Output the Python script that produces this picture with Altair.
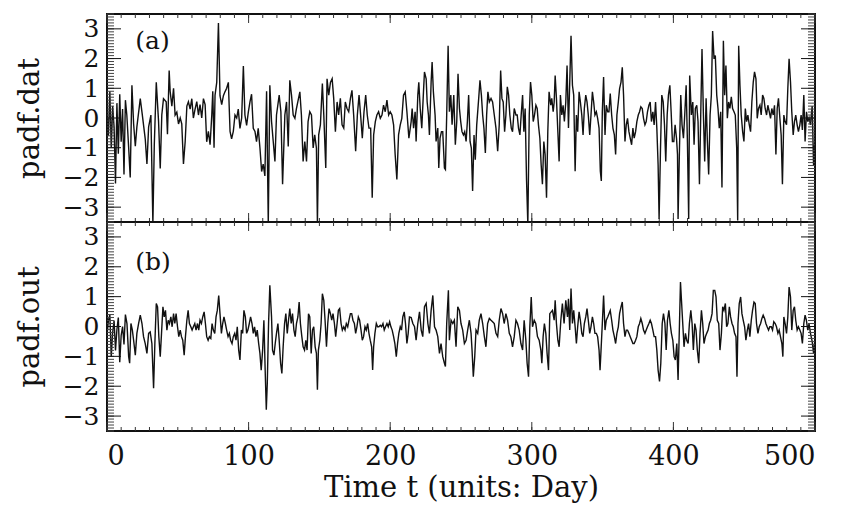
import altair as alt
import pandas as pd

# ---- data: (day, value) ----
padf_dat = [
(0,0.2),(1,-0.6),(2,0.9),(3,-1.0),(4,0.4),(5,-0.3),(6,-2.2),(7,0.5),(8,-1.2),(9,0.8),(10,-0.8),(11,0.3),(12,-1.9),(13,0.6),
(14,0.1),(15.3,-1.0),(16.4,-2.0),(17.6,1.1),(18.8,-0.2),(20,-0.95),(21.1,-0.3),(23.5,0.65),(24.7,0.2),(27,-0.7),(28.2,-1.55),(29.4,-0.3),(31,0.1),(32.4,-3.55),(33.4,-0.9),(34.8,1.2),(36.4,-0.1),(37.6,-1.7),(38.7,0.1),(39.9,0.65),(41.8,0.55),(42.7,-0.55),(43.9,1.6),(44.6,0.9),(45.8,0.4),(47,1.0),(48.1,0.1),(49.3,0.2),(50.5,-0.2),(51.7,0.0),(52.8,-0.2),(54,-1.55),(55.2,-0.8),(56.4,0.4),(57.5,0.55),(58.7,0.3),(59.9,0.65),(61,0.0),(62.2,0.3),(63.4,0.55),(64.6,0.1),(65.7,0.45),(66.9,0.0),(68.1,0.65),(69.3,0.45),(70.4,-0.8),(71.6,-0.45),(72.8,-0.9),(74,0.1),(74.7,0.9),(75.6,-1.0),(76.3,0.77),(77.5,1.2),(78.7,3.2),(79.8,0.75),(81,0.45),(82.2,0.75),(83.3,0.88),(84.5,1.0),(85.7,1.2),(86.9,-0.45),(88,-0.7),(89.2,-0.45),(90.4,0.1),(91.6,0.0),(92.7,0.3),(93.9,-0.35),(95.1,0.0),(96.3,1.75),(97.4,0.1),(98.6,-0.25),(99.8,0.2),(101,0.55),(102.1,0.8),(103.3,-0.35),(104.5,-0.45),(105.6,-0.8),(106.8,-0.35),(108,-1.0),(109.2,-1.8),(110.3,-1.55),(111.5,-1.95),(112.7,0.9),(113.9,-3.55),(115,1.1),
(116.2,-0.12),(117.4,-0.79),(118.6,-1.46),(119.7,0.1),(121.6,0.77),(122.8,0.21),(124,-2.23),(125.6,0.1),(126.8,0.54),(128,-0.96),(129.1,1.27),(130.3,0.77),(131.5,0.1),(132.7,-0.01),(133.8,0.32),(135,0.6),(136.2,0.88),(137.3,0.1),(138.5,-1.46),(139.7,-0.79),(140.9,-1.46),(142,-0.12),(143.2,0.21),(144.4,0.1),(145.6,-1.01),(146.7,-0.57),(147.9,-1.01),(148.6,-3.55),(149.5,-0.57),(150.7,-0.23),(152.1,1.16),(153.1,0.1),(154.5,-1.68),(155.4,1.32),(156.6,0.77),(157.8,1.2),(159,1.32),(160.1,0.66),(161.3,-0.46),(162.5,0.54),(163.6,0.1),(164.8,0.66),(166,-0.23),(167.2,-0.34),(168.3,0.54),(169.5,0.32),(170.7,0.21),(171.9,0.66),(173,0.93),(174.2,0.1),(175.6,-1.12),(176.8,0.1),(178,0.77),(179.1,0.1),(180.3,-0.68),(181.5,0.21),(182.7,0.77),(183.8,0.1),(185,-0.34),(186.2,-0.34),(187.3,-2.68),(188.3,-0.57),(189.5,-0.12),(190.6,0.1),(191.8,0.21),(193,-0.01),(194.2,0.1),(195.3,0.43),(196.5,0.21),(197.7,0.6),(198.9,0.1),(200,0.21),(201.2,0.1),(202.4,-0.23),(203.5,-1.23),(204.7,-2.07),(205.9,-0.57),(207.1,-0.23),(208.2,-0.01),(209.4,0.77),(210.6,0.88),(211.8,0.21),(213.2,-0.68),
(214.8,-0.12),(215.5,0.32),(216.5,-0.34),(217.6,0.21),(218.3,-0.79),(219.5,0.77),(220.2,1.2),(221.2,0.32),(222.3,-0.34),(223.5,0.88),(224.2,1.55),(225.4,1.32),(226.1,0.54),(227,0.1),(227.7,-0.57),(228.9,1.21),(229.6,1.88),(230.5,0.88),(231.7,0.1),(232.4,-0.79),(233.6,-0.34),(234.3,-1.68),(235.2,-0.68),(236.2,-0.46),(237.1,-0.46),(238.3,-1.68),(239,-1.73),(239.9,0.1),(240.9,2.43),(241.8,0.21),(242.8,0.77),(243.7,-0.23),(244.9,0.77),(246,-0.9),(247,-0.12),(247.9,1.49),(248.9,0.32),(249.8,-0.12),(250.7,-0.46),(251.7,-0.57),(252.6,-0.46),(253.6,-0.79),(254.5,-0.12),(255.4,0.77),(256.4,-0.79),(257.3,-1.01),(258.2,-2.46),(259.2,-0.57),(260.1,-1.4),(261.1,-0.23),(262.5,0.66),(263.4,1.27),(264.4,0.77),(265.3,0.1),(266.2,-0.34),(267.2,-1.18),(268.1,0.1),(269,0.88),(270,0.54),(271.2,0.66),(272.3,0.54),(273.5,0.1),(274.7,-0.34),(275.9,-1.12),(277,-0.23),(278,1.6),(278.9,0.66),(279.8,0.54),(280.8,-0.46),(281.7,0.1),(282.7,1.05),(283.6,0.77),(284.5,0.1),(285.5,-0.34),(286.4,-0.46),(287.6,0.32),(288.8,0.1),(289.7,0.1),(290.6,-0.34),(291.6,-0.57),(292.5,0.1),(293.5,0.77),(294.4,-0.46),(295.3,0.32),(296.3,-2.12),(297.2,-3.57),(298.2,0.1),(299.1,1.21),(300,0.77),(301,-0.12),(301.9,0.1),(302.9,0.43),(303.8,0.32),(304.7,-0.23),(305.7,-0.68),(306.6,-1.57),(307.5,-2.23),(308.5,-0.79),(309.4,-1.23),(310.4,-2.68),(311.3,-0.46),(312.2,0.88),
(313.4,0.43),(314.1,0.66),(315.1,0.21),(315.8,0.54),(316.5,1.43),(317.4,0.66),(318.4,-0.46),(319.3,-1.46),(320.2,0.77),(321.2,0.1),(322.1,0.43),(323,-0.12),(324,0.54),(324.9,1.77),(325.9,-0.34),(326.8,1.21),(327.7,2.77),(328.7,1.1),(329.6,0.77),(330.6,-1.79),(331.5,0.1),(332.4,-0.46),(333.4,0.88),(334.3,0.54),(335.3,0.1),(336.2,-0.57),(337.1,0.32),(338.1,0.77),(339,0.54),(339.9,0.1),(340.9,-0.57),(341.8,0.1),(342.8,0.88),(343.7,0.54),(344.6,0.1),(345.6,0.21),(346.5,-0.01),(347.5,-0.34),(348.4,-1.79),(349.1,-2.12),(349.8,0.21),(350.7,1.38),(351.7,-0.57),(352.6,0.43),(353.6,0.21),(354.5,0.21),(355.4,0.82),(356.4,0.1),(357.3,-0.34),(358.3,-0.57),(359.2,-1.23),(360.1,0.1),(361.1,0.54),(362,0.99),(363,1.21),(363.9,1.71),(364.8,0.77),(365.8,-0.79),(366.7,-0.23),(367.6,-0.01),(368.6,-0.46),(369.5,-0.68),(370.5,-0.9),(371.4,-0.34),(372.3,-0.68),(373.3,-0.46),(374.2,-0.12),(375.2,0.1),(376.1,0.21),(377,0.38),(378,0.32),(378.9,-0.01),(379.9,-0.23),(380.8,-0.12),(381.7,0.21),(382.7,0.43),(383.6,0.54),(384.5,-0.12),(385.5,0.21),(386.4,-0.23),(387.4,0.54),(388.3,-0.34),(389.2,-1.57),(389.9,-3.4),(390.9,-1.01),(391.8,0.77),(392.8,0.54),(393.7,-0.23),(394.6,-1.46),(395.6,0.1),(396.5,0.77),(397.5,1.1),(398.4,0.21),(399.3,-0.79),(400.3,-0.79),(401.2,-0.23),(402.2,-0.68),(402.9,-1.23),(403.3,-3.4),(404.3,-1.01),(405.2,0.77),(406.1,-0.23),(407.1,-0.68),(408,0.1),(409,1.1),(409.9,-0.79),(410.8,-3.4),(411.5,1.43),
(412.7,0.1),(413.7,0.54),(414.6,-0.9),(415.5,0.32),(416.5,0.43),(417.4,-0.12),(418.4,-2.23),(419.3,0.1),(420.2,2.32),(421.2,0.1),(422.1,-1.46),(423.1,0.66),(424,-0.79),(424.9,-1.9),(425.9,0.1),(426.8,0.77),(427.7,2.93),(428.7,1.99),(429.6,2.1),(430.6,0.77),(431.5,0.32),(432.4,-0.34),(433.4,0.21),(434.3,-2.34),(435.3,2.6),(436.2,0.77),(437.1,1.77),(438.1,-0.01),(439,0.54),(439.9,0.32),(440.9,0.71),(441.8,0.32),(442.8,0.21),(443.7,0.1),(444.7,-1.01),(445.4,-3.45),(446.1,2.43),(447,1.1),(447.9,0.1),(448.9,-0.46),(449.8,-0.79),(450.8,0.32),(451.7,-0.12),(452.6,0.1),(453.6,-0.23),(454.5,-0.46),(455.4,0.54),(456.4,1.21),(457.3,1.55),(458.3,1.32),(459.2,-0.01),(460.1,0.32),(461.1,0.43),(462,0.1),(463,0.77),(463.9,0.66),(464.8,0.32),(465.8,0.1),(466.7,0.43),(467.7,0.21),(468.6,-0.01),(469.5,0.32),(470.5,0.1),(471.4,0.43),(472.4,-1.23),(473.3,0.32),(474.2,0.66),(475.2,-0.01),(476.1,-0.57),(477,-2.23),(478,0.1),(478.9,-0.12),(479.9,-0.23),(480.8,0.99),(481.7,1.99),(482.7,1.21),(483.6,0.21),(484.6,-0.57),(485.5,-0.12),(486.4,0.1),(487.4,-0.23),(488.3,-0.46),(489.3,-0.23),(490.2,0.1),(491.1,-0.4),(492.1,0.77),(493,-0.79),(494,0.21),(494.9,-0.12),(495.8,0.01),(496.8,-0.23),(498,0.4),(499,-1.6),(500,-0.6),
]

padf_out = [
(0,-0.3),(1,0.2),(2,0.4),(3,-1.0),(4,-0.2),(5,0.2),(6,-0.8),(7,-0.1),(8,0.3),(9,-1.2),(10,-0.3),(11,0.0),(12,-0.6),(13,0.4),
(14.1,0.1),(15.3,-1.01),(16,-1.23),(16.9,0.1),(17.9,-0.12),(18.8,-0.46),(20,-0.96),(21.1,-0.23),(22.3,0.1),(23.5,0.38),(24.7,0.1),(25.8,-0.34),(27,-0.57),(28.2,-0.9),(29.4,-0.23),(30.5,-0.18),(31.7,-0.57),(32.9,-2.07),(33.8,-0.57),(34.8,0.77),(35.7,0.66),(36.6,-0.34),(37.6,-1.01),(38.5,-0.23),(39.5,0.66),(40.4,0.32),(41.3,0.54),(42.3,-0.12),(43.2,0.21),(44.1,0.1),(45.1,0.32),(46,-0.01),(47,0.43),(47.9,0.1),(48.8,0.43),(49.8,-0.01),(50.7,-0.34),(51.7,-0.12),(52.6,-0.34),(53.5,-0.46),(54.5,-0.96),(55.4,-0.34),(56.4,0.21),(57.3,0.54),(58.2,0.1),(59.2,-0.01),(60.1,-0.12),(61,-0.01),(62,0.1),(62.9,-0.12),(63.9,0.1),(64.8,-0.12),(65.7,0.21),(66.7,0.1),(67.6,0.32),(68.6,0.49),(69.5,0.1),(70.4,-0.34),(71.4,-0.46),(72.3,-0.34),(73.3,-0.4),(74.2,0.1),(75.1,-0.12),(76.1,-0.23),(77,0.32),(77.9,0.54),(78.9,1.04),(79.8,0.43),(80.8,-0.23),(81.7,0.1),(82.6,0.32),(83.6,0.1),(84.5,-0.12),(85.5,-0.34),(86.4,-0.23),(87.3,-0.46),(88.3,-0.57),(89.2,-0.34),(90.2,-0.23),(91.1,-0.46),(92,-0.01),(93,-0.79),(93.9,-1.12),(94.9,-0.12),(95.8,-0.23),(96.7,0.54),(97.7,0.32),(98.6,-0.23),(99.5,-0.12),(100.5,0.1),(101.4,0.32),(102.4,0.1),(103.3,-0.23),(104.2,-0.01),(105.2,-0.34),(106.1,-0.12),(107.1,-0.57),(108,-0.9),(108.9,-1.46),(109.9,-0.79),(110.8,0.21),(111.7,-1.46),(112.5,-2.79),(113.2,-1.9),(114.1,0.1),(115,1.38),
(116.2,0.32),(116.9,-0.79),(117.9,-0.96),(118.8,-0.57),(119.7,-0.23),(120.7,0.1),(121.6,-0.46),(122.6,-1.23),(123.5,-1.57),(124.4,-0.68),(125.4,0.1),(126.3,0.43),(127.3,-0.23),(128.2,0.21),(129.1,0.6),(130.1,0.1),(131,0.43),(132,-0.12),(132.9,-0.34),(133.8,0.1),(134.8,0.32),(135.7,0.82),(136.6,0.1),(137.6,-0.34),(138.5,-0.68),(139.5,-0.79),(140.4,-0.46),(141.3,-0.79),(142.3,0.43),(143.2,0.32),(144.2,-0.9),(145.1,-0.12),(146,-0.01),(147,-0.68),(147.9,-0.9),(148.6,-2.12),(149.3,-0.79),(150.3,-0.46),(151.2,0.1),(152.1,1.1),(153.1,0.88),(154,0.21),(155,-0.68),(155.9,0.1),(156.8,0.6),(157.8,0.43),(158.7,0.21),(159.6,0.43),(160.6,0.1),(161.5,-0.34),(162.5,0.1),(163.4,0.54),(164.3,0.6),(165.3,0.1),(166.2,-0.12),(167.2,-0.01),(168.1,-0.12),(169,0.1),(170,-0.01),(170.9,0.21),(171.9,0.43),(172.8,0.43),(173.7,0.21),(174.7,0.1),(175.6,-0.23),(176.5,-0.01),(177.5,0.32),(178.4,0.21),(179.4,-0.12),(180.3,-0.46),(181.2,-0.34),(182.2,-0.01),(183.1,-0.12),(184.1,0.1),(185,-0.23),(185.9,-0.46),(186.9,-0.68),(187.6,-1.46),(188.3,-0.68),(189.2,-0.23),(190.2,0.1),(191.1,-0.01),(192,-0.01),(193,0.04),(193.9,-0.01),(194.9,0.1),(195.8,-0.12),(196.7,-0.01),(197.7,0.1),(198.6,-0.01),(199.6,0.16),(200.5,-0.01),(201.4,-0.12),(202.4,-0.34),(203.3,-0.57),(204.3,-1.01),(205.2,-0.57),(206.1,-0.23),(207.1,-0.01),(208,-0.12),(208.9,0.32),(209.9,0.49),(210.8,0.1),(211.8,-0.57),(212.7,-0.23),(213.6,0.32),
(214.8,0.3),(216,0.1),(217.2,-0.01),(218.3,-0.46),(219.5,0.1),(220.7,0.49),(221.9,-0.12),(223,-0.34),(224.2,0.66),(225.4,0.77),(226.6,0.1),(227.7,-0.23),(228.9,0.54),(230.1,1.04),(231.3,-0.01),(232.4,-0.12),(233.6,-0.34),(234.8,-0.9),(235.9,-0.57),(237.1,-1.01),(238.3,-1.23),(239,-1.34),(239.9,0.1),(241.1,1.21),(241.8,-0.46),(243,0.21),(244.2,0.1),(245.3,0.21),(246.5,-0.68),(247.7,0.66),(248.9,0.54),(250,0.1),(251.2,-0.12),(252.4,-0.57),(253.6,-0.46),(254.7,-0.12),(255.9,0.21),(257.1,-0.23),(257.8,-0.79),(258.7,-1.68),(259.7,-1.01),(260.6,-0.12),(261.8,-0.23),(262.9,0.21),(264.1,0.43),(265.3,0.1),(266.5,-0.34),(267.6,-0.68),(268.8,0.1),(270,0.27),(271.2,0.21),(272.3,0.16),(273.5,0.1),(274.7,-0.23),(275.9,-0.34),(277,0.21),(278.2,0.6),(279.4,0.43),(280.5,0.1),(281.7,0.43),(282.9,0.21),(284.1,-0.23),(285.2,-0.34),(286.4,-0.68),(287.6,-0.34),(288.8,0.21),(289.9,0.1),(291.1,-0.12),(292.3,-0.57),(293.5,-0.79),(294.6,0.21),(295.8,-0.46),(296.7,-1.23),(297.7,-1.68),(298.6,-0.01),(299.6,0.99),(300.5,-0.01),(301.7,0.21),(302.8,0.1),(304,-0.34),(305.2,-0.46),(306.4,-0.79),(307.1,-1.23),(308,-0.34),(308.9,0.1),(309.9,-0.23),(310.8,-0.9),(311.8,-1.46),(312.7,0.43),
(314.6,0.54),(315.8,0.21),(316.5,0.88),(317.4,0.1),(318.4,-0.46),(319.3,-0.68),(320.5,0.21),(321.6,0.77),(322.8,0.1),(324,0.88),(325.2,0.32),(325.9,0.93),(326.8,-0.12),(327.7,1.27),(328.7,0.1),(329.6,0.54),(330.6,-0.01),(331.5,-0.57),(332.4,-0.01),(333.4,0.49),(334.3,0.21),(335.3,-0.23),(336.2,-0.34),(337.1,0.1),(338.1,0.32),(339,0.6),(339.9,0.21),(340.9,-0.23),(341.8,-0.01),(342.8,0.32),(343.7,0.1),(344.6,-0.23),(345.6,-0.23),(346.5,-0.34),(347.5,-0.79),(348.2,-1.46),(348.9,-0.79),(349.8,0.1),(350.7,1.04),(351.7,-0.12),(352.6,0.21),(353.6,0.32),(354.5,0.43),(355.4,0.54),(356.4,0.21),(357.3,-0.12),(358.3,-0.34),(359.2,-0.57),(360.1,-0.23),(361.1,-0.01),(362,0.43),(363,0.66),(363.9,0.82),(364.8,0.1),(365.8,-0.34),(366.7,-0.12),(367.6,-0.12),(368.6,-0.23),(369.5,-0.34),(370.5,-0.46),(371.4,-0.57),(372.3,-0.57),(373.3,-0.46),(374.2,-0.34),(375.2,-0.01),(376.1,0.1),(377,0.27),(378,0.1),(378.9,-0.12),(379.9,-0.23),(380.8,-0.12),(381.7,-0.01),(382.7,0.1),(383.6,0.21),(384.5,0.1),(385.5,-0.12),(386.4,-0.34),(387.4,-0.34),(388.3,-0.79),(389.2,-1.46),(390.2,-1.84),(391.1,-1.23),(392.1,0.1),(393,0.43),(394,0.1),(394.9,-0.79),(395.8,0.21),(396.8,0.54),(397.7,0.1),(398.6,-0.23),(399.6,-0.46),(400.5,-1.01),(401.4,-1.12),(402.4,-0.57),(403.3,-1.79),(404.3,0.1),(405,1.49),(405.7,0.88),(406.6,0.1),(407.5,-0.68),(408.5,-0.23),(409.4,-0.46),(410.4,-0.57),(411.3,0.1),
(412.3,0.54),(413.2,0.1),(414.1,-0.79),(415.1,0.1),(416,-0.12),(416.9,-0.79),(417.9,-1.23),(418.8,-0.23),(419.8,0.54),(420.7,0.1),(421.6,-0.57),(422.6,-0.34),(423.5,-0.23),(424.5,-0.12),(425.4,0.1),(426.3,0.21),(427.3,0.43),(428.2,1.21),(429.2,1.21),(430.1,0.99),(431,0.21),(432,0.1),(432.9,-0.79),(433.9,-0.23),(434.8,0.66),(435.7,0.54),(436.7,0.77),(437.6,-0.01),(438.5,0.1),(439.5,0.66),(440.4,0.32),(441.4,0.1),(442.3,-0.01),(443.2,-0.23),(444.2,-0.34),(444.9,-1.68),(445.6,0.1),(446.5,0.77),(447.5,0.99),(448.4,0.43),(449.3,0.21),(450.3,-0.01),(451.2,-0.46),(452.2,-0.12),(453.1,0.1),(454,-0.34),(455,0.21),(455.9,0.54),(456.9,0.82),(457.8,0.77),(458.7,0.1),(459.7,-0.23),(460.6,-0.01),(461.6,0.1),(462.5,0.27),(463.4,0.38),(464.4,0.27),(465.3,0.1),(466.2,-0.01),(467.2,-0.12),(468.1,-0.01),(469.1,-0.01),(470,-0.12),(470.9,0.16),(471.9,0.1),(472.8,-0.01),(473.8,-0.23),(474.7,-0.12),(475.6,-0.34),(476.6,-0.57),(477.3,-1.01),(478,0.32),(478.9,0.1),(479.9,-0.23),(480.8,0.32),(481.7,1.32),(482.7,0.99),(483.6,-0.12),(484.6,0.54),(485.5,0.66),(486.4,0.21),(487.4,-0.12),(488.3,-0.01),(489.3,-0.12),(490.2,-0.23),(491.1,-0.57),(492.1,0.1),(493,0.38),(493.9,0.21),(494.9,-0.12),(495.8,0.1),(496.8,-0.23),(498,-0.5),(499,-0.9),(500,-0.4),
]

y_ticks = [-3, -2, -1, 0, 1, 2, 3]
x_ticks = [0, 100, 200, 300, 400, 500]
y_minor = [i / 10 for i in range(-35, 36)]
x_minor = list(range(0, 501, 10))
panel_tags = ["(a)", "(b)"]
tag_pos = [(20, 2.6), (20, 2.15)]
y_titles = ["padf.dat", "padf.out"]
x_title = "Time t (units: Day)"

FONT = "DejaVu Serif"
W = 708
H = [208, 209]
XDOM = [0, 500]
YDOM = [-3.5, 3.5]


def panel(points, idx, show_x):
    h = H[idx]
    xs = alt.Scale(domain=XDOM, nice=False, zero=False)
    ys = alt.Scale(domain=YDOM, nice=False, zero=False)
    if show_x:
        xaxis = alt.Axis(values=x_ticks, title=x_title, grid=False, domain=False,
                         ticks=False, labelPadding=12, titlePadding=4, format="d",
                         labelFontSize=27, titleFontSize=29)
    else:
        xaxis = None
    yaxis = alt.Axis(values=y_ticks, title=y_titles[idx], grid=False,
                     domain=False, ticks=False, labelPadding=8,
                     titlePadding=18, format="d")
    xenc = alt.X("t:Q", scale=xs, axis=xaxis)
    yenc = alt.Y("v:Q", scale=ys, axis=yaxis)

    df = pd.DataFrame(points, columns=["t", "v"])
    line = alt.Chart(df).mark_line(color="#111", strokeWidth=1.4, clip=True).encode(
        x=xenc, y=yenc)

    ymin = pd.DataFrame({"v": y_minor})
    ymaj = pd.DataFrame({"v": y_ticks})
    xmin = pd.DataFrame({"t": x_minor})
    xmaj = pd.DataFrame({"t": x_ticks})
    layers = [line]
    for lo, hi, d, c in [(0, 7, ymin, "#444"), (0, 14, ymaj, "#111")]:
        layers.append(alt.Chart(d).mark_rule(color=c, strokeWidth=1).encode(
            y=yenc, x=alt.value(lo), x2=alt.value(hi)))
        layers.append(alt.Chart(d).mark_rule(color=c, strokeWidth=1).encode(
            y=yenc, x=alt.value(W - hi), x2=alt.value(W - lo)))
    for L, d in [(4, xmin), (9, xmaj)]:
        layers.append(alt.Chart(d).mark_rule(color="#333", strokeWidth=1).encode(
            x=xenc, y=alt.value(h), y2=alt.value(h - L)))
        layers.append(alt.Chart(d).mark_rule(color="#333", strokeWidth=1).encode(
            x=xenc, y=alt.value(0), y2=alt.value(L)))
    tag = pd.DataFrame({"t": [tag_pos[idx][0]], "v": [tag_pos[idx][1]],
                        "s": [panel_tags[idx]]})
    layers.append(alt.Chart(tag).mark_text(font=FONT, fontSize=25, align="left",
                                           baseline="middle", color="#111").encode(
        x=xenc, y=yenc, text="s:N"))
    return alt.layer(*layers).properties(width=W, height=h)


top = panel(padf_dat, 0, False)
bot = panel(padf_out, 1, True)

chart = alt.vconcat(top, bot, spacing=0, bounds="flush").properties(
    padding={"left": 6, "top": 4, "right": 5, "bottom": 2}
).configure_view(stroke="#111", strokeWidth=2).configure_axis(
    labelFont=FONT, labelFontSize=25, labelColor="#111",
    titleFont=FONT, titleFontSize=29, titleFontWeight="normal", titleColor="#111",
)

chart.save("out.html", embed_options={"renderer": "svg", "actions": False})
